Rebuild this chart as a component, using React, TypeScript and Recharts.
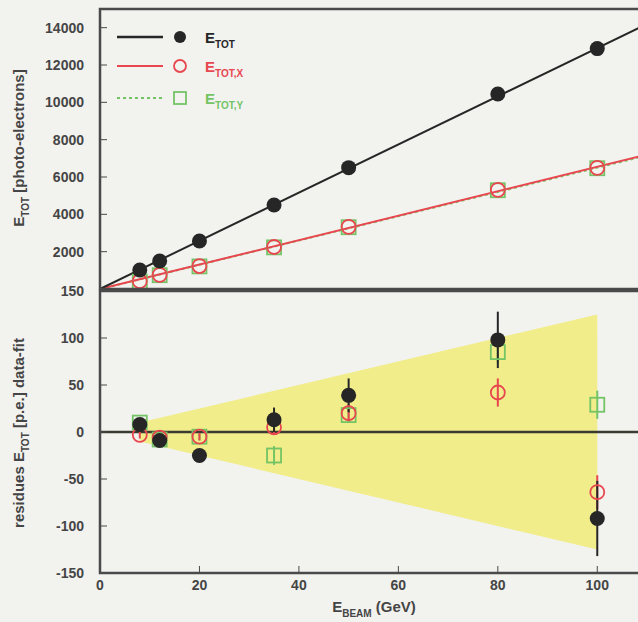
import React from 'react';
import {
  ComposedChart,
  Line,
  Scatter,
  Area,
  XAxis,
  YAxis,
  ReferenceLine,
  ErrorBar,
} from 'recharts';

// beam energies (GeV)
const energies = [8, 12, 20, 35, 50, 80, 100];

// total signal (photo-electrons)
const eTot = [1020, 1500, 2570, 4500, 6500, 10450, 12880];
const eTotX = [420, 760, 1230, 2250, 3330, 5310, 6490];
const eTotY = [400, 740, 1210, 2230, 3310, 5290, 6470];

// linear fits, evaluated at the ends of the axis
const fitEnergy = [0, 110];
const fitTot = [0, 14200];
const fitTotX = [0, 7200];
const fitTotY = [0, 7150];

// residues data - fit (p.e.) and their errors
const resTot = [8, -9, -25, 13, 39, 98, -92];
const errTot = [5, 5, 4, 13, 18, 30, 40];
const resX = [-3, -6, -5, 5, 20, 42, -64];
const errX = [4, 4, 4, 8, 10, 15, 18];
const resY = [10, -8, -5, -25, 18, 85, 29];
const errY = [4, 4, 4, 10, 8, 12, 15];

// systematic band
const bandEnergy = [8, 100];
const bandHalf = [10, 125];

const topTicks = [2000, 4000, 6000, 8000, 10000, 12000, 14000];
const resTicks = [-150, -100, -50, 0, 50, 100, 150];
const xTicks = [0, 20, 40, 60, 80, 100];

const pts = (ys: number[], errs?: number[]) =>
  energies.map((x, i) => ({ x, y: ys[i], e: errs ? errs[i] : 0 }));
const fit = (ys: number[]) => fitEnergy.map((x, i) => ({ x, y: ys[i] }));
const band = bandEnergy.map((x, i) => ({ x, band: [-bandHalf[i], bandHalf[i]] }));

const BLACK = '#262626';
const RED = '#e8474f';
const GREEN = '#74c466';
const AXIS = '#4a4a4a';
const FONT = '"Liberation Sans", Arial, sans-serif';

const tickStyle = { fontSize: 14, fontWeight: 700, fill: '#454545', fontFamily: FONT };

const FilledDot = (p: any) => <circle cx={p.cx} cy={p.cy} r={7.5} fill={BLACK} />;
const OpenCircle = (p: any) => (
  <circle cx={p.cx} cy={p.cy} r={7} fill="none" stroke={RED} strokeWidth={1.8} />
);
const OpenSquare = (p: any) => (
  <rect x={p.cx - 7} y={p.cy - 7} width={14} height={14} fill="none" stroke={GREEN} strokeWidth={1.8} />
);

const TopPanel = () => (
  <ComposedChart width={650} height={300} margin={{ top: 9, right: 3, left: 0, bottom: 11 }}>
    <XAxis
      dataKey="x"
      type="number"
      domain={[0, 110]}
      ticks={xTicks}
      height={0}
      tickSize={-7}
      tickFormatter={() => ''}
      axisLine={false}
      stroke={AXIS}
    />
    <YAxis
      dataKey="y"
      type="number"
      domain={[0, 15000]}
      ticks={topTicks}
      width={100}
      tickSize={-7}
      tickMargin={23}
      axisLine={false}
      stroke={AXIS}
      tick={tickStyle}
      allowDataOverflow
    />
    <Line data={fit(fitTotY)} dataKey="y" stroke={GREEN} strokeWidth={2} strokeDasharray="3 3" dot={false} isAnimationActive={false} />
    <Line data={fit(fitTotX)} dataKey="y" stroke={RED} strokeWidth={2} dot={false} isAnimationActive={false} />
    <Line data={fit(fitTot)} dataKey="y" stroke={BLACK} strokeWidth={2} dot={false} isAnimationActive={false} />
    <Scatter data={pts(eTotY)} dataKey="y" shape={OpenSquare} isAnimationActive={false} />
    <Scatter data={pts(eTotX)} dataKey="y" shape={OpenCircle} isAnimationActive={false} />
    <Scatter data={pts(eTot)} dataKey="y" shape={FilledDot} isAnimationActive={false} />
  </ComposedChart>
);

const BottomPanel = () => (
  <ComposedChart width={650} height={342} margin={{ top: 11, right: 3, left: 0, bottom: 19 }}>
    <XAxis
      dataKey="x"
      type="number"
      domain={[0, 110]}
      ticks={xTicks}
      height={30}
      tickSize={-7}
      tickMargin={14}
      axisLine={false}
      stroke={AXIS}
      tick={tickStyle}
    />
    <YAxis
      dataKey="y"
      type="number"
      domain={[-150, 150]}
      ticks={resTicks}
      width={100}
      tickSize={-7}
      tickMargin={23}
      axisLine={false}
      stroke={AXIS}
      tick={tickStyle}
      allowDataOverflow
    />
    <Area data={band} dataKey="band" type="linear" stroke="none" fill="#f1ed8a" fillOpacity={1} isAnimationActive={false} />
    <ReferenceLine y={0} stroke="#3a3a30" strokeWidth={2.5} />
    <Scatter data={pts(resY, errY)} dataKey="y" shape={OpenSquare} isAnimationActive={false}>
      <ErrorBar dataKey="e" direction="y" width={0} stroke={GREEN} strokeWidth={2} />
    </Scatter>
    <Scatter data={pts(resX, errX)} dataKey="y" shape={OpenCircle} isAnimationActive={false}>
      <ErrorBar dataKey="e" direction="y" width={0} stroke={RED} strokeWidth={2} />
    </Scatter>
    <Scatter data={pts(resTot, errTot)} dataKey="y" shape={FilledDot} isAnimationActive={false}>
      <ErrorBar dataKey="e" direction="y" width={0} stroke={BLACK} strokeWidth={2} />
    </Scatter>
  </ComposedChart>
);

const Sub = ({ children }: { children: string }) => (
  <tspan fontSize={10} dy={5}>{children}</tspan>
);

const Overlay = () => (
  <svg width={638} height={622} style={{ position: 'absolute', left: 0, top: 0, pointerEvents: 'none' }}>
    <g fill="none" stroke={AXIS} strokeWidth={2.5}>
      <rect x={100} y={9} width={547} height={280} />
      <rect x={100} y={291} width={547} height={282} />
    </g>
    <g fontFamily={FONT} fontWeight={700} fontSize={15}>
      <line x1={117} x2={163} y1={37} y2={37} stroke={BLACK} strokeWidth={2.5} />
      <circle cx={180} cy={37} r={6} fill={BLACK} />
      <text x={205} y={43} fill={BLACK}>E<Sub>TOT</Sub></text>
      <line x1={117} x2={163} y1={66} y2={66} stroke={RED} strokeWidth={2} />
      <circle cx={180} cy={66} r={6} fill="none" stroke={RED} strokeWidth={1.8} />
      <text x={205} y={72} fill={RED}>E<Sub>TOT,X</Sub></text>
      <line x1={117} x2={163} y1={98} y2={98} stroke={GREEN} strokeWidth={2} strokeDasharray="3 3" />
      <rect x={174} y={92} width={12} height={12} fill="none" stroke={GREEN} strokeWidth={1.8} />
      <text x={205} y={104} fill={GREEN}>E<Sub>TOT,Y</Sub></text>
    </g>
    <g fontFamily={FONT} fontWeight={700} fontSize={15} fill="#454545" textAnchor="middle">
      <text x={24} y={148} transform="rotate(-90, 24, 148)">
        E<Sub>TOT</Sub><tspan dy={-5}> [photo-electrons]</tspan>
      </text>
      <text x={24} y={433} transform="rotate(-90, 24, 433)">
        residues E<Sub>TOT</Sub><tspan dy={-5}> [p.e.] data-fit</tspan>
      </text>
      <text x={374} y={612}>
        E<Sub>BEAM</Sub><tspan dy={-5}> (GeV)</tspan>
      </text>
    </g>
  </svg>
);

export default function App() {
  return (
    <div
      style={{
        position: 'absolute',
        left: 0,
        top: 0,
        width: 638,
        height: 622,
        overflow: 'hidden',
        background: '#f2f2ef',
      }}
    >
      <div style={{ position: 'absolute', left: 0, top: 0 }}>
        <TopPanel />
      </div>
      <div style={{ position: 'absolute', left: 0, top: 280 }}>
        <BottomPanel />
      </div>
      <Overlay />
    </div>
  );
}
